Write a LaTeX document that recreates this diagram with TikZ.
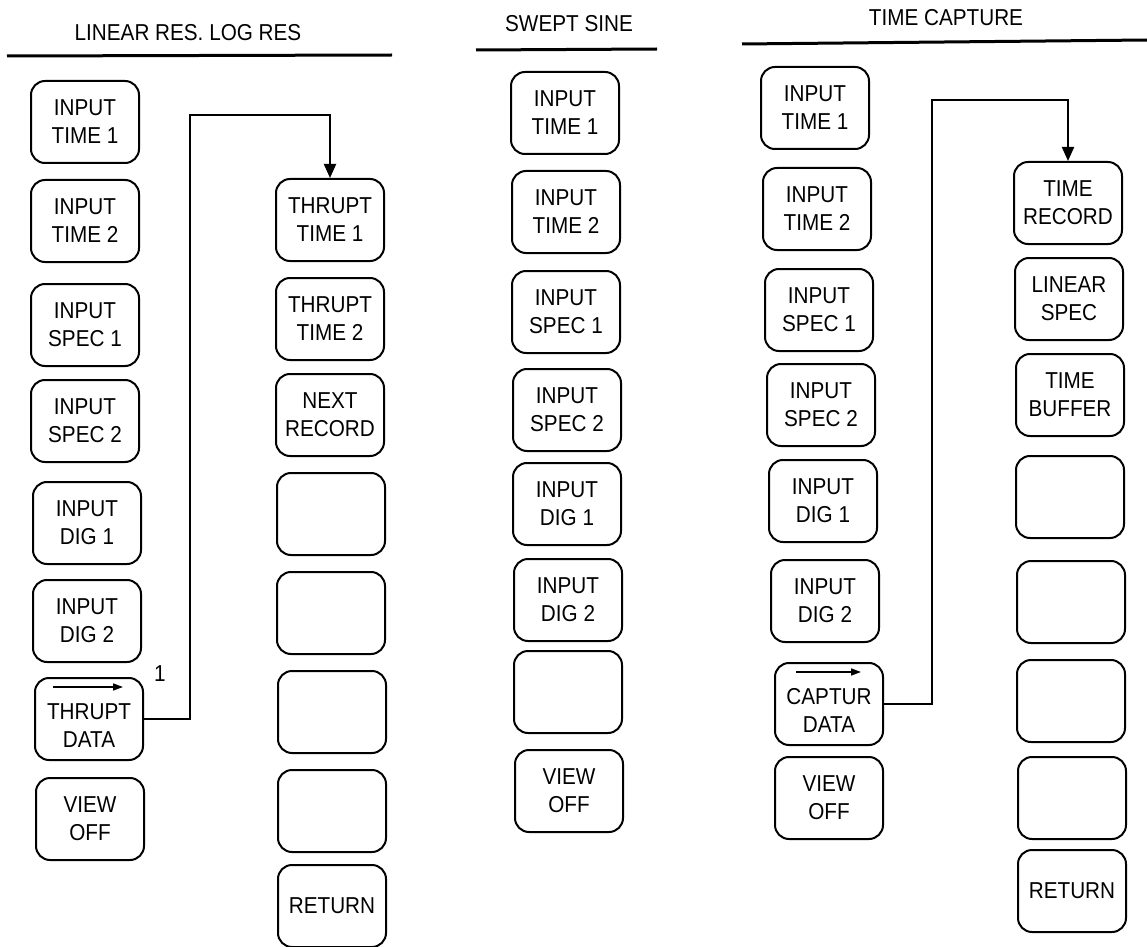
\documentclass[tikz,border=0pt]{standalone}
\usepackage{fontspec}
\setmainfont[FakeStretch=0.9]{Liberation Sans}
\usepackage{tikz}
\usetikzlibrary{arrows.meta,positioning,calc}

\tikzset{
  softkey/.style={draw, line width=1pt, rounded corners=7pt,
    minimum width=54pt, minimum height=41pt, inner sep=0pt,
    align=center, font=\fontsize{11.5}{14}\selectfont},
  heading/.style={font=\fontsize{11.5}{14}\selectfont},
  rule/.style={line width=1.5pt},
  flow/.style={line width=1pt, -{Triangle[length=7pt,width=6pt]}},
  mark arrow/.style={line width=0.8pt, -{Triangle[length=5pt,width=3.5pt]}}
}

\begin{document}
\begin{tikzpicture}[x=0.5pt, y=-0.5pt]
    \useasboundingbox (0,0) rectangle (1147,947);

    % Headings
    \node[heading] (hlin) at (188,33) {LINEAR RES. LOG RES};
    \draw[rule] (7,56) -- (392,55);
    \node[heading] (hswp) at (569,24) {SWEPT SINE};
    \draw[rule] (476,50) -- (657,49);
    \node[heading] (htc) at (946,18) {TIME CAPTURE};
    \draw[rule] (742,44) -- (1147,40);

    % Linear res / log res: main keys
    \node[softkey] (lit1) at (85,122) {INPUT\\TIME 1};
    \node[softkey] (lit2) at (85,221) {INPUT\\TIME 2};
    \node[softkey] (lis1) at (85,325) {INPUT\\SPEC 1};
    \node[softkey] (lis2) at (85,421) {INPUT\\SPEC 2};
    \node[softkey] (lid1) at (87,523) {INPUT\\DIG 1};
    \node[softkey] (lid2) at (87,621) {INPUT\\DIG 2};
    \node[softkey] (tdata) at (89,719) {\\THRUPT\\DATA};
    \node[softkey] (lvoff) at (90,819) {VIEW\\OFF};

    % Linear res / log res: thruput menu
    \node[softkey] (ttime1) at (330,220) {THRUPT\\TIME 1};
    \node[softkey] (ttime2) at (330,319) {THRUPT\\TIME 2};
    \node[softkey] (nrec) at (330,415) {NEXT\\RECORD};
    \node[softkey] (te1) at (331,514) {};
    \node[softkey] (te2) at (331,613) {};
    \node[softkey] (te3) at (332,712) {};
    \node[softkey] (te4) at (332,811) {};
    \node[softkey] (tret) at (332,906) {RETURN};

    % Swept sine
    \node[softkey] (sit1) at (565,113) {INPUT\\TIME 1};
    \node[softkey] (sit2) at (566,212) {INPUT\\TIME 2};
    \node[softkey] (sis1) at (566,312) {INPUT\\SPEC 1};
    \node[softkey] (sis2) at (567,410) {INPUT\\SPEC 2};
    \node[softkey] (sid1) at (567,504) {INPUT\\DIG 1};
    \node[softkey] (sid2) at (568,600) {INPUT\\DIG 2};
    \node[softkey] (se1) at (568,692) {};
    \node[softkey] (svoff) at (569,791) {VIEW\\OFF};

    % Time capture: main keys
    \node[softkey] (cit1) at (815,108) {INPUT\\TIME 1};
    \node[softkey] (cit2) at (817,209) {INPUT\\TIME 2};
    \node[softkey] (cis1) at (819,310) {INPUT\\SPEC 1};
    \node[softkey] (cis2) at (821,405) {INPUT\\SPEC 2};
    \node[softkey] (cid1) at (823,501) {INPUT\\DIG 1};
    \node[softkey] (cid2) at (825,601) {INPUT\\DIG 2};
    \node[softkey] (cdata) at (829,704) {\\CAPTUR\\DATA};
    \node[softkey] (cvoff) at (829,798) {VIEW\\OFF};

    % Time capture: capture menu
    \node[softkey] (trec) at (1068,203) {TIME\\RECORD};
    \node[softkey] (lspec) at (1069,299) {LINEAR\\SPEC};
    \node[softkey] (tbuf) at (1070,395) {TIME\\BUFFER};
    \node[softkey] (ce1) at (1070,497) {};
    \node[softkey] (ce2) at (1071,602) {};
    \node[softkey] (ce3) at (1071,701) {};
    \node[softkey] (ce4) at (1072,798) {};
    \node[softkey] (cret) at (1072,891) {RETURN};

    % Arrows marked on the data keys
    \draw[mark arrow] ([shift={(-36,10)}]tdata.north) -- ([shift={(34,10)}]tdata.north);
    \draw[mark arrow] ([shift={(-33,10)}]cdata.north) -- ([shift={(32,10)}]cdata.north);

    % Connectors to the sub menus
    \coordinate (bend1) at (190,115);
    \draw[flow] (tdata.east) -| (bend1) -| (ttime1.north);
    \node[heading] (lbl1) at (160,674) {1};

    \coordinate (bend2) at (932,100);
    \draw[flow] (cdata.east) -| (bend2) -| (trec.north);
\end{tikzpicture}
\end{document}
